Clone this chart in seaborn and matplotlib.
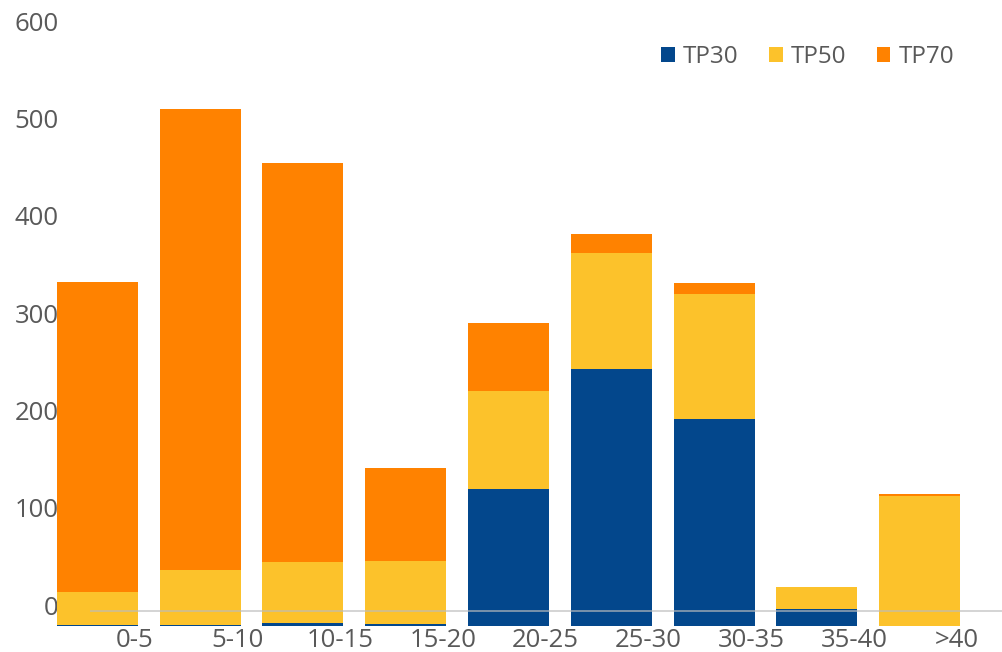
"""
Stacked bar chart of TP30 / TP50 / TP70 counts per size class.
"""

import numpy as np
import seaborn as sns
import matplotlib.pyplot as plt
from matplotlib.patches import Patch
from matplotlib.transforms import ScaledTranslation

# data
categories = ["0-5", "5-10", "10-15", "15-20", "20-25", "25-30", "30-35", "35-40", ">40"]
tp30 = [1.5, 1.5, 3, 2, 141, 264, 213, 17, 0]
tp50 = [33, 56, 63, 65, 101, 119, 128, 23, 134]
tp70 = [319, 474, 410, 95, 69, 20, 11, 0, 2]
y_ticks = [0, 100, 200, 300, 400, 500, 600]
series_names = ["TP30", "TP50", "TP70"]

# bars in the source start a little below the zero line
BASE = -15.4

colors = {"TP30": "#03478c", "TP50": "#fcc22b", "TP70": "#ff8200"}
text_grey = "#595959"

sns.set_theme(style="white")
plt.rcParams["font.family"] = ["Open Sans", "DejaVu Sans"]

fig = plt.figure(figsize=(10.02, 6.52), dpi=100)
ax = fig.add_axes([0.0459, 0.0399, 0.9541, 0.9448])

# cumulative heights, drawn back to front so the stacks show through
top30 = np.array(tp30, dtype=float)
top50 = top30 + np.array(tp50, dtype=float)
top70 = top50 + np.array(tp70, dtype=float)

for name, heights in [("TP70", top70), ("TP50", top50), ("TP30", top30)]:
    sns.barplot(
        x=categories,
        y=heights,
        order=categories,
        color=colors[name],
        width=0.788,
        bottom=BASE,
        linewidth=0,
        saturation=1,
        ax=ax,
    )

# zero line drawn over the bars
ax.hlines(0, -0.07, 8.8, color="#bcbcbc", linewidth=1.2, alpha=0.75, zorder=5)

ax.set_xlim(-0.5, 8.8)
ax.set_ylim(BASE, 617.7)
sns.despine(ax=ax, left=True, bottom=True)

# x labels sit to the right of each bar
ax.set_xticks(np.arange(len(categories)) + 0.36)
ax.set_xticklabels(categories)
ax.tick_params(axis="x", length=0, pad=1.5, labelsize=18.5, labelcolor=text_grey)

ax.set_yticks(y_ticks)
ax.set_yticklabels([str(t) for t in y_ticks])
ax.tick_params(axis="y", length=0, pad=-9, labelsize=18.5, labelcolor=text_grey)
for lbl in ax.get_yticklabels():
    lbl.set_transform(lbl.get_transform() + ScaledTranslation(0, 0.06, fig.dpi_scale_trans))
    lbl.set_zorder(10)

ax.set_xlabel("")
ax.set_ylabel("")
ax.grid(False)

handles = [Patch(facecolor=colors[n], edgecolor="none", label=n) for n in series_names]
ax.legend(
    handles=handles,
    loc="upper left",
    bbox_to_anchor=(0.66, 1 - 45 / 652),
    bbox_transform=fig.transFigure,
    ncol=3,
    frameon=False,
    fontsize=17.5,
    labelcolor=text_grey,
    handlelength=0.55,
    handleheight=0.55,
    handletextpad=0.35,
    columnspacing=1.25,
    borderpad=0,
    borderaxespad=0,
)

fig.savefig("out.png", dpi=100)
